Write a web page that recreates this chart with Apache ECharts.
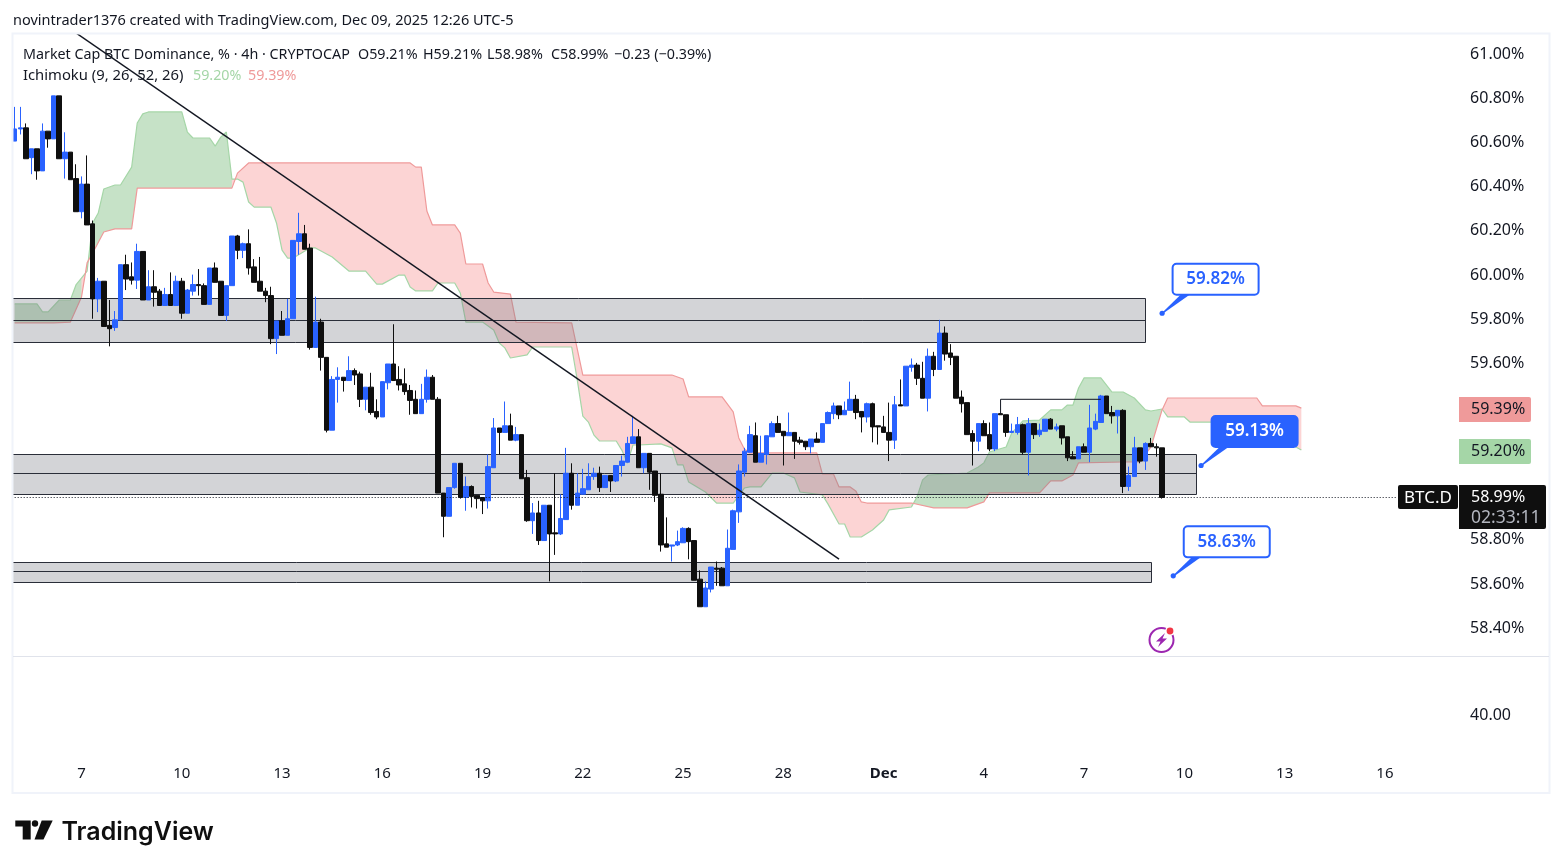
<!DOCTYPE html>
<html><head><meta charset="utf-8">
<style>html,body{margin:0;padding:0;background:#fff}#c{width:1563px;height:868px}</style>
<script src="https://cdn.jsdelivr.net/npm/echarts@6/dist/echarts.min.js"></script>
</head><body><div id="c"></div>
<script>
// 4h candles, first visible bar = 12 bars before Nov 7 00:00
const firstBar = -12;
const barCount = 260;
const opens = [60.6,60.655,60.66,60.525,60.565,60.465,60.645,60.61,60.805,60.52,60.55,60.43,
60.28,60.405,60.225,59.885,59.965,59.765,59.755,59.79,60.04,59.985,59.97,60.1,59.88,59.94,59.92,59.855,59.905,59.855,59.965,59.82,59.92,59.95,59.945,59.86,60.025,59.965,59.81,59.945,60.17,60.105,60.135,60.03,59.965,59.92,59.9,59.705,59.785,59.72,59.795,60.145,60.18,60.115,59.665,59.78,
59.62,59.29,59.52,59.53,59.515,59.56,59.545,59.43,59.485,59.375,59.35,59.505,59.59,59.52,59.5,59.47,59.43,59.365,59.43,59.53,59.43,59.005,58.9,59.03,59.14,58.985,59.035,58.995,58.985,58.97,59.12,59.3,59.28,59.31,59.245,59.27,59.075,58.88,58.915,58.79,58.95,58.825,58.82,58.885,59.095,58.95,59.0,59.02,59.08,
59.095,59.03,59.085,59.06,59.13,59.145,59.23,59.26,59.12,59.185,59.105,59.0,58.775,58.765,58.77,58.78,58.845,58.79,58.615,58.49,58.57,58.665,58.665,58.585,58.75,58.92,59.1,59.19,59.265,59.145,59.18,59.26,59.32,59.285,59.265,59.28,59.245,59.24,59.215,59.25,59.235,59.32,59.365,59.4,59.36,59.38,59.43,
59.375,59.35,59.41,59.31,59.305,59.28,59.245,59.405,59.4,59.575,59.585,59.525,59.435,59.625,59.565,59.73,59.64,59.625,59.44,59.415,59.275,59.24,59.32,59.27,59.205,59.365,59.36,59.28,59.28,59.315,59.19,59.32,59.27,59.285,59.34,59.295,59.31,59.26,59.17,59.16,59.215,59.19,59.295,59.325,59.445,59.37,59.355,59.38,59.035,59.08,59.21,59.15,59.23,59.215,59.21];
const closes = [60.655,60.66,60.52,60.565,60.465,60.645,60.61,60.805,60.52,60.55,60.425,60.28,
60.405,60.22,59.885,59.965,59.76,59.75,59.79,60.04,59.975,59.97,60.1,59.88,59.94,59.915,59.855,59.905,59.855,59.965,59.82,59.925,59.95,59.945,59.86,60.025,59.96,59.81,59.945,60.17,60.105,60.135,60.025,59.96,59.92,59.9,59.705,59.785,59.72,59.795,60.15,60.18,60.11,59.665,59.78,59.62,
59.29,59.52,59.53,59.515,59.56,59.54,59.43,59.485,59.37,59.35,59.51,59.59,59.515,59.495,59.465,59.425,59.365,59.43,59.53,59.43,59.005,58.9,59.03,59.14,58.985,59.035,58.99,58.98,58.97,59.125,59.3,59.28,59.31,59.245,59.27,59.07,58.88,58.915,58.79,58.95,58.82,58.82,58.89,59.095,58.95,59.005,59.025,59.08,59.095,
59.03,59.085,59.06,59.13,59.15,59.23,59.26,59.12,59.185,59.1,58.995,58.77,58.76,58.77,58.785,58.845,58.785,58.61,58.49,58.575,58.67,58.66,58.585,58.755,58.925,59.105,59.195,59.27,59.145,59.185,59.265,59.32,59.28,59.265,59.28,59.24,59.235,59.215,59.25,59.235,59.32,59.37,59.4,59.36,59.38,59.43,59.37,
59.35,59.41,59.305,59.305,59.28,59.245,59.405,59.4,59.58,59.585,59.525,59.435,59.625,59.565,59.73,59.635,59.62,59.435,59.41,59.27,59.24,59.32,59.265,59.205,59.365,59.36,59.28,59.285,59.315,59.19,59.32,59.27,59.29,59.34,59.295,59.305,59.255,59.165,59.16,59.215,59.19,59.3,59.33,59.445,59.365,59.355,59.38,59.035,59.085,59.21,59.15,59.23,59.215,59.21,58.985];
const lows = [60.6,60.63,60.52,60.45,60.425,60.465,60.57,60.61,60.52,60.43,60.425,60.28,
60.25,60.22,59.795,59.825,59.76,59.67,59.74,59.79,59.925,59.95,59.93,59.88,59.88,59.85,59.855,59.855,59.855,59.855,59.795,59.82,59.9,59.9,59.86,59.86,59.96,59.81,59.785,59.945,60.065,60.07,59.995,59.96,59.92,59.87,59.68,59.635,59.72,59.72,59.795,60.085,60.11,59.655,59.665,59.56,
59.28,59.29,59.415,59.465,59.515,59.495,59.395,59.38,59.36,59.34,59.35,59.475,59.515,59.47,59.45,59.36,59.365,59.365,59.415,59.43,59.005,58.805,58.9,59.025,58.98,58.925,58.94,58.935,58.91,58.935,59.12,59.18,59.28,59.245,59.24,59.07,58.875,58.82,58.77,58.79,58.605,58.725,58.815,58.885,58.93,58.95,59.0,59.02,59.065,
59.01,59.03,59.01,59.055,59.08,59.145,59.23,59.12,59.095,59.02,58.965,58.74,58.76,58.695,58.765,58.78,58.705,58.61,58.49,58.49,58.555,58.585,58.585,58.585,58.75,58.87,59.08,59.19,59.145,59.145,59.135,59.26,59.28,59.13,59.265,59.16,59.225,59.2,59.185,59.235,59.235,59.32,59.34,59.34,59.36,59.38,59.34,
59.28,59.325,59.235,59.225,59.28,59.15,59.205,59.4,59.4,59.555,59.495,59.435,59.375,59.535,59.565,59.605,59.585,59.435,59.37,59.27,59.13,59.195,59.265,59.195,59.195,59.36,59.26,59.28,59.27,59.18,59.085,59.25,59.26,59.285,59.295,59.285,59.225,59.15,59.16,59.16,59.19,59.145,59.29,59.325,59.365,59.32,59.275,59.005,59.015,59.08,59.14,59.11,59.215,59.17,58.98];
const highs = [60.755,60.755,60.68,60.565,60.565,60.68,60.645,60.805,60.805,60.64,60.55,60.495,
60.44,60.535,60.24,59.98,59.965,59.88,59.83,60.04,60.085,60.05,60.135,60.1,60.015,60.015,59.93,59.935,60.005,59.99,59.98,59.93,59.995,60.02,59.955,60.025,60.05,59.965,59.945,60.17,60.175,60.14,60.2,60.065,60.075,59.935,59.94,59.785,59.83,59.885,60.15,60.275,60.22,60.135,59.895,59.795,
59.62,59.535,59.575,59.53,59.625,59.57,59.555,59.485,59.55,59.43,59.51,59.59,59.77,59.58,59.57,59.495,59.47,59.5,59.565,59.54,59.44,59.005,59.03,59.14,59.14,59.08,59.04,58.995,58.985,59.18,59.345,59.3,59.42,59.365,59.305,59.27,59.11,58.96,58.97,58.95,58.95,59.095,59.0,59.21,59.14,59.095,59.115,59.14,59.12,
59.125,59.085,59.085,59.13,59.175,59.26,59.355,59.295,59.185,59.185,59.105,59.095,58.895,58.77,58.835,58.85,58.85,58.79,58.655,58.605,58.67,58.695,58.67,58.84,58.93,59.135,59.21,59.31,59.325,59.265,59.265,59.33,59.355,59.285,59.37,59.28,59.26,59.24,59.25,59.28,59.32,59.375,59.415,59.4,59.42,59.51,59.45,
59.375,59.415,59.415,59.31,59.355,59.415,59.445,59.52,59.58,59.615,59.595,59.6,59.66,59.645,59.79,59.76,59.68,59.625,59.47,59.415,59.29,59.32,59.335,59.325,59.365,59.365,59.36,59.32,59.35,59.32,59.345,59.32,59.32,59.34,59.345,59.32,59.31,59.26,59.195,59.215,59.23,59.405,59.365,59.45,59.445,59.4,59.38,59.385,59.125,59.26,59.21,59.235,59.255,59.23,59.21];

// Ichimoku leading spans: [bar, price]
const senkouA = [[-12,59.862],[-8,59.862],[-7,59.826],[-6,59.826],[-4,59.88],[-2,59.88],[-1,59.948],[1,60.011],[2,60.229],[3,60.274],[4,60.383],[6,60.401],[7,60.401],[9,60.482],[10,60.682],[11,60.723],[12,60.732],[18,60.732],[19,60.641],[20,60.614],[23,60.614],[24,60.577],[25,60.618],[26,60.641],[27,60.428],[28,60.428],[29,60.414],[30,60.324],[31,60.301],[34,60.301],[35,60.229],[36,60.106],[37,60.07],[38,60.07],[41,60.116],[42,60.116],[45,60.075],[48,60.011],[51,60.011],[53,59.952],[54,59.952],[57,59.993],[58,59.993],[59,59.939],[60,59.921],[63,59.921],[64,59.957],[67,59.957],[68,59.912],[69,59.78],[72,59.78],[74,59.744],[75,59.685],[76,59.663],[77,59.617],[80,59.631],[81,59.667],[88,59.667],[89,59.518],[90,59.354],[91,59.327],[92,59.268],[93,59.241],[96,59.241],[97,59.2],[98,59.141],[99,59.223],[100,59.223],[104,59.228],[106,59.21],[107,59.133],[108,59.133],[109,59.055],[112,59.01],[114,58.96],[117,58.96],[119,59.028],[120,59.033],[122,59.033],[124,59.096],[126,59.096],[128,59.074],[129,59.01],[133,58.997],[134,58.956],[136,58.865],[137,58.865],[138,58.806],[140,58.806],[142,58.838],[144,58.883],[145,58.929],[149,58.942],[150,58.988],[151,59.065],[152,59.087],[159,59.096],[161,59.123],[162,59.142],[163,59.191],[166,59.214],[167,59.277],[169,59.332],[172,59.336],[174,59.382],[176,59.382],[177,59.404],[178,59.404],[179,59.481],[180,59.527],[183,59.527],[185,59.463],[187,59.463],[189,59.436],[191,59.382],[192,59.377],[194,59.386],[195,59.35],[198,59.35],[199,59.327],[208,59.327],[216,59.264],[218,59.214],[219,59.2]];
const senkouB = [[-12,59.776],[-5,59.776],[-2,59.78],[0,59.894],[1,60.048],[2,60.093],[4,60.188],[6,60.202],[9,60.202],[10,60.387],[27,60.387],[28,60.455],[30,60.501],[59,60.501],[60,60.482],[61,60.482],[62,60.283],[63,60.22],[67,60.22],[68,60.183],[69,60.043],[72,60.043],[73,59.957],[74,59.916],[77,59.907],[78,59.78],[88,59.776],[90,59.54],[106,59.54],[108,59.522],[109,59.441],[115,59.441],[117,59.373],[118,59.255],[119,59.205],[120,59.187],[132,59.187],[133,59.092],[135,59.092],[136,59.033],[138,59.033],[139,59.015],[140,58.965],[141,58.96],[149,58.96],[153,58.938],[159,58.938],[162,58.965],[163,59.006],[172,59.006],[174,59.06],[176,59.06],[178,59.087],[179,59.142],[187,59.146],[190,59.146],[192,59.214],[194,59.382],[195,59.436],[211,59.436],[212,59.4],[218,59.4],[219,59.39]];

// Drawn zones: [end bar, top, middle, bottom]
const zones = [[191,59.889,59.789,59.69],[200,59.182,59.094,59.001],[192,58.693,58.652,58.604]];
const trendLine = [[-1,61.09],[136,58.706]];
const bracketLine = [[165,59.362],[165,59.43],[183,59.43]];
const calloutBars = [194,201,196];
const calloutPrices = [59.82,59.13,58.63];
const calloutFilled = [false,true,false];
const lastPrice = 58.99;
const lastPriceLine = 58.985;
const lastPriceEndBar = 236;
const senkouALast = 59.20, senkouBLast = 59.39;
const priceTicks = [61.0,60.8,60.6,60.4,60.2,60.0,59.8,59.6,58.8,58.6,58.4];
const lowerPaneTicks = [40];
const timeBars = [0,18,36,54,72,90,108,126,144,162,180,198,216,234];
const timeLabels = ['7','10','13','16','19','22','25','28','Dec','4','7','10','13','16'];

const BLUE='#2962FF', INK='#131722', BLACK='#0f0f0f', FF='"Noto Sans",sans-serif';
const toK = b => b - firstBar;
const categories = Array.from({length:barCount},(_,k)=>String(k+firstBar));
const tickMap = {}; timeBars.forEach((b,n)=>tickMap[toK(b)]=timeLabels[n]);
const candleData = opens.map((o,n)=>[o,closes[n],lows[n],highs[n]]);
const shift = a => a.map(p=>[toK(p[0]),p[1]]);

function evalAt(line,x){
  for(let n=1;n<line.length;n++){ if(x<=line[n][0]){const a=line[n-1],b=line[n];return a[1]+(b[1]-a[1])*(x-a[0])/(b[0]-a[0]);} }
  return line[line.length-1][1];
}
// split the area between the two spans into runs by which span is on top
function cloudRuns(){
  const xs=[...new Set(senkouA.concat(senkouB).map(p=>p[0]))].sort((a,b)=>a-b);
  const runs=[];let cur=null;
  const push=(x,a,b,up)=>{ if(!cur||cur.up!==up){ const prev=cur; cur={up,top:[],bot:[]}; runs.push(cur); if(prev){const l=prev.top.length-1;cur.top.push(prev.top[l]);cur.bot.push(prev.bot[l]);} } cur.top.push([x,a]);cur.bot.push([x,b]); };
  xs.forEach(x=>push(x,evalAt(senkouA,x),evalAt(senkouB,x),evalAt(senkouA,x)>=evalAt(senkouB,x)));
  return runs;
}
const runs=cloudRuns();
const pr={a:{fontSize:16,fontFamily:FF,color:INK,padding:[3,0,0,0]}};

const option={
  animation:false,backgroundColor:'#fff',
  grid:[{left:11.9,right:102.9,top:34,height:622},{left:11.9,right:102.9,top:656,height:104}],
  xAxis:[
    {type:'category',gridIndex:0,data:categories,boundaryGap:true,show:false},
    {type:'category',gridIndex:1,data:categories,boundaryGap:true,axisLine:{show:false},axisTick:{show:false},splitLine:{show:false},
     axisLabel:{interval:(i)=>tickMap[i]!==undefined,margin:6,color:INK,fontFamily:FF,fontSize:15,
       formatter:(v,i)=>{const t=tickMap[i]||'';return t==='Dec'?'{b|Dec}':t;},rich:{b:{fontWeight:'bold',fontSize:15,fontFamily:FF,color:INK}}}}
  ],
  yAxis:[
    {type:'value',gridIndex:0,position:'right',min:58.2669,max:61.0852,axisLine:{show:false},axisTick:{show:false},splitLine:{show:false},
     axisLabel:{customValues:priceTicks,align:'left',margin:10,rich:pr,formatter:v=>'{a|'+v.toFixed(2)+'%}'}},
    {type:'value',gridIndex:1,position:'right',min:30,max:52.6,axisLine:{show:false},axisTick:{show:false},splitLine:{show:false},
     axisLabel:{customValues:lowerPaneTicks,align:'left',margin:10,rich:pr,formatter:v=>'{a|'+v.toFixed(2)+'}'}}
  ],
  series:[
    {type:'custom',name:'cloud',z:1,clip:true,silent:true,data:[[0,60]],renderItem:(p,api)=>({type:'group',children:runs.map(r=>{
        const pts=r.top.concat(r.bot.slice().reverse()).map(q=>{
          const c=api.coord([0,q[1]]), c0=api.coord([toK(Math.floor(q[0])),q[1]]), c1=api.coord([toK(Math.ceil(q[0])),q[1]]);
          const f=q[0]-Math.floor(q[0]); return [c0[0]+(c1[0]-c0[0])*f,c[1]];});
        return {type:'polygon',shape:{points:pts},style:{fill:r.up?'rgba(67,160,71,0.3)':'rgba(244,67,67,0.23)'}};
      })})},
    {type:'line',name:'Senkou A',z:2,data:shift(senkouA),showSymbol:false,symbol:'none',lineStyle:{color:'#a5d6a7',width:1.2}},
    {type:'line',name:'Senkou B',z:2,data:shift(senkouB),showSymbol:false,symbol:'none',lineStyle:{color:'#ef9a9a',width:1.2}},
    {type:'custom',name:'zones',z:3,clip:true,silent:true,data:zones.map(z=>[toK(z[0]),z[1],z[2],z[3]]),encode:{x:0,y:[1,2,3]},
      renderItem:(p,api)=>{
        const xe=Math.round(api.coord([api.value(0),0])[0])+.5, xs=p.coordSys.x;
        const yy=[1,2,3].map(d=>Math.round(api.coord([0,api.value(d)])[1])+.5);
        const st={stroke:'#2a2e39',lineWidth:1};
        const ln=(x1,y1,x2,y2)=>({type:'line',shape:{x1,y1,x2,y2},style:st});
        return {type:'group',children:[
          {type:'rect',shape:{x:xs,y:yy[0],width:xe-xs,height:yy[2]-yy[0]},style:{fill:'rgba(120,123,134,0.33)'}},
          ln(xs,yy[0],xe,yy[0]),ln(xs,yy[1],xe,yy[1]),ln(xs,yy[2],xe,yy[2]),ln(xe,yy[0],xe,yy[2])]};
      }},
    {type:'candlestick',name:'BTC.D',z:5,data:candleData,barWidth:5,
      itemStyle:{color:BLUE,color0:BLACK,borderColor:BLUE,borderColor0:BLACK,borderWidth:1}},
    {type:'line',name:'trend',z:6,data:shift(trendLine),symbol:'none',lineStyle:{color:INK,width:1.5}},
    {type:'line',name:'bracket',z:6,data:shift(bracketLine),symbol:'none',lineStyle:{color:INK,width:1}},
    {type:'line',name:'last',z:6,data:[[0,lastPriceLine],[toK(lastPriceEndBar),lastPriceLine]],symbol:'none',lineStyle:{color:INK,width:1,type:[1,2]}},
    {type:'custom',name:'callouts',z:8,clip:false,silent:true,data:calloutBars.map((b,n)=>[toK(b),calloutPrices[n]]),encode:{x:0,y:1},
      renderItem:(p,api)=>{
        const c=api.coord([api.value(0),api.value(1)]),filled=calloutFilled[p.dataIndex];
        const bx=c[0]+10.5,by=c[1]-49.5,bw=86,bh=31;
        const tail=[[c[0],c[1]-.6],[bx+8,by+bh],[bx+17,by+bh],[c[0]+.6,c[1]+.6]];
        return {type:'group',children:[
          {type:'circle',shape:{cx:c[0],cy:c[1],r:2.6},style:{fill:BLUE}},
          {type:'polygon',shape:{points:tail},style:{fill:BLUE}},
          {type:'rect',shape:{x:bx,y:by,width:bw,height:bh,r:4},style:{fill:filled?BLUE:'#fff',stroke:BLUE,lineWidth:2}},
          {type:'text',style:{text:api.value(1).toFixed(2)+'%',x:bx+bw/2,y:by+bh/2,align:'center',verticalAlign:'middle',fill:filled?'#fff':BLUE,font:'600 17px '+FF}}
        ]};
      }},
    {type:'custom',name:'priceTags',z:9,clip:false,silent:true,data:[[0,senkouBLast],[0,senkouALast],[0,lastPrice]],encode:{y:1},
      renderItem:(p,api)=>{
        const v=api.value(1),y=api.coord([0,v])[1],n=p.dataIndex;
        const lab=v.toFixed(2)+'%';
        if(n<2) return {type:'group',children:[
          {type:'rect',shape:{x:1459,y:Math.round(y-11.5),width:72,height:25,r:[0,2,2,0]},style:{fill:n===0?'#ef9a9a':'#a5d6a7'}},
          {type:'text',style:{text:lab,x:1471,y:y+1.5,verticalAlign:'middle',fill:INK,font:'16px '+FF}}]};
        return {type:'group',children:[
          {type:'rect',shape:{x:1398,y:y-11.5,width:60,height:24,r:2},style:{fill:BLACK}},
          {type:'text',style:{text:'BTC.D',x:1428,y:y+1.5,align:'center',verticalAlign:'middle',fill:'#fff',font:'17px '+FF}},
          {type:'rect',shape:{x:1459,y:y-11.5,width:87,height:44,r:[0,2,2,0]},style:{fill:BLACK}},
          {type:'text',style:{text:lab,x:1471,y:y+1.5,verticalAlign:'middle',fill:'#fff',font:'16px '+FF}},
          {type:'text',style:{text:'02:33:11',x:1471,y:y+22,verticalAlign:'middle',fill:'#b2b5be',font:'17.5px '+FF}}]};
      }}
  ],
  graphic:[]
};

const T=(text,x,y,fill,font)=>({type:'text',z:50,silent:true,x,y,style:{text,fill:fill||INK,font:font||('14.3px '+FF),verticalAlign:'middle'}});
option.graphic=[
  {type:'rect',z:40,silent:true,shape:{x:0,y:0,width:12,height:868},style:{fill:'#fff'}},
  {type:'rect',z:41,silent:true,shape:{x:12.5,y:33.5,width:1537,height:759.5},style:{fill:'transparent',stroke:'#f0f3fa',lineWidth:2}},
  {type:'line',z:41,silent:true,shape:{x1:13,y1:656.5,x2:1549,y2:656.5},style:{stroke:'#e0e3eb',lineWidth:1}},
  T('novintrader1376 created with TradingView.com, Dec 09, 2025 12:26 UTC-5',13,20.5,INK,'14.5px '+FF),
  T('Market Cap BTC Dominance, % · 4h · CRYPTOCAP',23,55),
  T('O59.21%',358,55),T('H59.21%',423,55),T('L58.98%',487,55),T('C58.99%',551,55),T('−0.23 (−0.39%)',614,55),
  T('Ichimoku (9, 26, 52, 26)',23,75.5,INK,'14.8px '+FF),
  T('59.20%',193,75.5,'#a5d6a7'),T('59.39%',248,75.5,'#ef9a9a'),
  // logo
  {type:'polygon',z:50,silent:true,shape:{points:[[15.3,820.5],[30.7,820.5],[30.7,839.5],[22.7,839.5],[22.7,826.5],[15.3,826.5]]},style:{fill:BLACK}},
  {type:'circle',z:50,silent:true,shape:{cx:35,cy:823.5,r:3.2},style:{fill:BLACK}},
  {type:'polygon',z:50,silent:true,shape:{points:[[41.7,820.5],[52.7,820.5],[43.5,839.5],[34.5,839.5]]},style:{fill:BLACK}},
  T('TradingView',61.5,832,BLACK,'600 25px Inter,'+FF),
  // alert icon
  {type:'circle',z:50,silent:true,shape:{cx:1161.5,cy:640,r:12},style:{fill:'#fff',stroke:'#9c27b0',lineWidth:2}},
  {type:'polygon',z:51,silent:true,shape:{points:[[1165,633],[1156,641.5],[1160.5,641.5],[1158,647],[1167,638.5],[1162.5,638.5]]},style:{fill:'#9c27b0'}},
  {type:'circle',z:52,silent:true,shape:{cx:1170,cy:631,r:4.8},style:{fill:'#fff'}},
  {type:'circle',z:53,silent:true,shape:{cx:1170,cy:631,r:3.4},style:{fill:'#f23645'}}
];
echarts.init(document.getElementById('c'),null,{renderer:'canvas'}).setOption(option);
</script></body></html>
